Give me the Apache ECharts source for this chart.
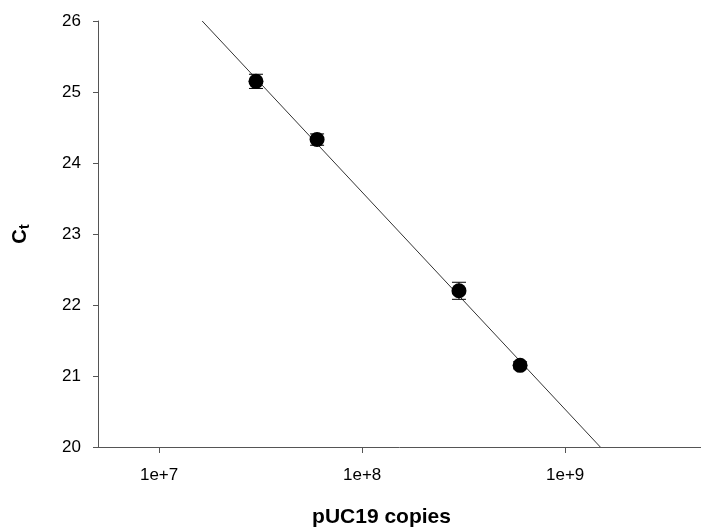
<!DOCTYPE html>
<html>
<head>
<meta charset="utf-8">
<script src="https://cdn.jsdelivr.net/npm/echarts@6/dist/echarts.min.js"></script>
<style>
  html, body { margin: 0; padding: 0; background: #fff; }
  #chart { width: 701px; height: 529px; }
</style>
</head>
<body>
<div id="chart"></div>
<script>
// pUC19 standard curve: Ct vs copies
var copies = [3e7, 6e7, 3e8, 6e8];
var ctMean = [25.15, 24.33, 22.2, 21.15];
var ctErr = [0.1, 0.08, 0.12, 0.05];
// regression line end points
var fitCopies = [1.63e7, 1.49e9];
var fitCt = [26, 20];
var yTicks = [20, 21, 22, 23, 24, 25, 26];

var points = [];
for (var i = 0; i < copies.length; i++) {
    points.push([copies[i], ctMean[i]]);
}
var errData = [];
for (var i = 0; i < copies.length; i++) {
    errData.push([copies[i], ctMean[i] - ctErr[i], ctMean[i] + ctErr[i]]);
}
var fitLine = [];
for (var i = 0; i < fitCopies.length; i++) {
    fitLine.push([fitCopies[i], fitCt[i]]);
}

var myChart = echarts.init(document.getElementById('chart'));
var font = 'Liberation Sans, Arial, sans-serif';

var option = {
    backgroundColor: '#fff',
    animation: false,
    grid: {
        left: 98,
        right: 0,
        top: 21,
        bottom: 82,
        outerBoundsMode: 'none'
    },
    xAxis: {
        type: 'log',
        logBase: 10,
        min: 5e6,
        max: 4.67e9,
        name: 'pUC19 copies',
        nameLocation: 'middle',
        nameGap: 60,
        nameTextStyle: {
            fontFamily: font,
            fontSize: 21,
            fontWeight: 'bold',
            color: '#000',
            padding: [0, 36, 0, 0]
        },
        axisLine: { lineStyle: { color: '#555', width: 1 } },
        axisTick: { show: true, length: 6, inside: false, lineStyle: { color: '#555' } },
        splitLine: { show: false },
        axisLabel: {
            fontFamily: font,
            fontSize: 17,
            color: '#000',
            margin: 20,
            showMinLabel: false,
            showMaxLabel: false,
            formatter: function (v) {
                var l = Math.log10(v);
                var e = Math.round(l);
                if (Math.abs(l - e) > 1e-6) return '';
                return '1e+' + e;
            }
        }
    },
    yAxis: {
        type: 'value',
        min: yTicks[0],
        max: yTicks[yTicks.length - 1],
        interval: 1,
        name: '{c|C}{t|t}',
        nameLocation: 'middle',
        nameGap: 66,
        nameRotate: 90,
        nameTextStyle: {
            rich: {
                c: { fontFamily: font, fontSize: 20, fontWeight: 'bold', color: '#000' },
                t: { fontFamily: font, fontSize: 15, fontWeight: 'bold', color: '#000', padding: [9, 0, 0, 0] }
            }
        },
        axisLine: { show: true, lineStyle: { color: '#555', width: 1 } },
        axisTick: { show: true, length: 5, inside: false, lineStyle: { color: '#555' } },
        splitLine: { show: false },
        axisLabel: {
            fontFamily: font,
            fontSize: 17,
            color: '#000',
            margin: 17
        }
    },
    series: [
        {
            name: 'fit',
            type: 'line',
            data: fitLine,
            showSymbol: false,
            symbol: 'none',
            lineStyle: { color: '#333', width: 1 },
            z: 1
        },
        {
            name: 'error',
            type: 'custom',
            data: errData,
            z: 2,
            renderItem: function (params, api) {
                var x = api.value(0);
                var lo = api.coord([x, api.value(1)]);
                var hi = api.coord([x, api.value(2)]);
                var half = 7;
                var st = { stroke: '#000', lineWidth: 1 };
                return {
                    type: 'group',
                    children: [
                        { type: 'line', shape: { x1: lo[0], y1: lo[1], x2: hi[0], y2: hi[1] }, style: st },
                        { type: 'line', shape: { x1: lo[0] - half, y1: lo[1], x2: lo[0] + half, y2: lo[1] }, style: st },
                        { type: 'line', shape: { x1: hi[0] - half, y1: hi[1], x2: hi[0] + half, y2: hi[1] }, style: st }
                    ]
                };
            }
        },
        {
            name: 'Ct',
            type: 'scatter',
            data: points,
            symbol: 'circle',
            symbolSize: 15,
            itemStyle: { color: '#000', opacity: 1 },
            z: 3
        }
    ]
};

myChart.setOption(option);
</script>
</body>
</html>
